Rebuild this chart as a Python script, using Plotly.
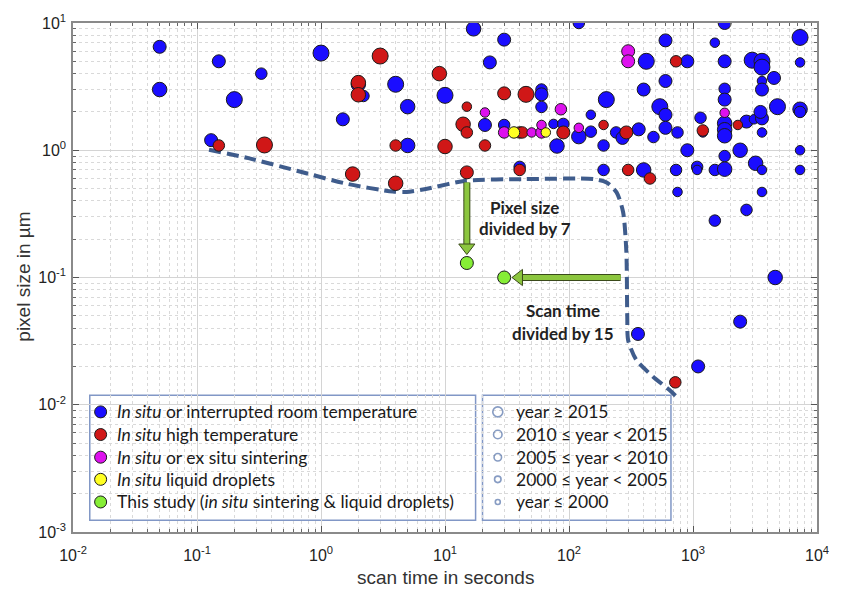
import plotly.graph_objects as go

# ---------------- data ----------------
# year class: 0: year>=2015, 1: 2010-2015, 2: 2005-2010, 3: 2000-2005, 4: year<=2000
blue_x = [0.05, 0.05, 0.15, 0.33, 0.2, 1.0, 1.5, 0.13, 17, 30, 120, 23, 2.0, 2.2, 4.0, 5.0, 10,
          60, 60, 60, 21, 30, 75, 90, 120, 80, 5.0, 40, 1800, 600, 1500, 7300, 420, 900, 1800,
          3000, 3600, 3600, 7300, 600, 400, 1800, 1800, 3600, 3600, 4500, 200, 540, 600, 4800,
          7300, 7300, 150, 1150, 1800, 1800, 1800, 2700, 3100, 3600, 3500, 3600, 150, 190, 240,
          270, 365, 480, 600, 750, 1200, 900, 1800, 2400, 3200, 3600, 7300, 7300, 190, 400, 730,
          1080, 1080, 1500, 1800, 750, 3600, 2700, 1500, 4600, 2400, 360, 1100]
blue_y = [6.5, 3.0, 5.0, 4.0, 2.5, 5.8, 1.75, 1.2, 9.0, 7.4, 10, 4.9, 3.3, 2.67, 3.3, 2.2, 2.7,
          3.0, 2.75, 2.19, 1.58, 1.58, 1.61, 1.61, 1.28, 1.08, 1.09, 0.74, 10, 7.3, 7.0, 7.7, 5.0, 5.0, 5.0,
          5.1, 5.0, 4.5, 4.9, 3.5, 3.0, 3.04, 2.5, 3.5, 3.0, 3.7, 2.5, 2.2, 1.9, 2.2,
          2.1, 2.0, 1.9, 1.8, 1.63, 1.45, 1.3, 1.68, 1.75, 1.78, 2.0, 1.38, 1.4, 1.09, 1.38,
          1.25, 1.46, 1.27, 1.5, 1.38, 1.38, 1.0, 0.9, 1.0, 0.79, 0.7, 1.0, 0.7, 0.7, 0.7, 0.7,
          0.74, 0.7, 0.7, 0.71, 0.47, 0.47, 0.34, 0.28, 0.1, 0.045, 0.036, 0.02]
blue_cls = [2, 1, 2, 3, 0, 0, 2, 2, 1, 2, 3, 2, 1, 3, 0, 1, 0,
            3, 2, 3, 2, 3, 4, 3, 1, 1, 1, 3, 2, 2, 4, 0, 0, 2, 2,
            0, 0, 0, 4, 2, 2, 3, 2, 4, 2, 2, 0, 0, 2, 0,
            1, 3, 4, 3, 1, 1, 1, 2, 4, 2, 2, 4, 3, 3, 3,
            2, 2, 3, 2, 3, 4, 2, 3, 1, 1, 4, 4, 4, 3, 1, 3,
            3, 4, 3, 1, 4, 4, 3, 3, 1, 2, 2, 2]

red_x = [0.15, 0.35, 1.8, 3.0, 9, 2.0, 2.0, 15, 30, 45, 14, 15, 40, 42, 90, 4.0, 10, 21, 40,
         4.0, 15, 730, 2300, 190, 290, 1200, 300, 450, 720]
red_y = [1.09, 1.1, 0.65, 5.5, 4.0, 3.4, 2.73, 2.2, 2.8, 2.75, 1.6, 1.38, 1.38, 1.38, 1.38, 1.09,
         1.07, 1.09, 0.7, 0.55, 0.67, 5.0, 1.58, 1.58, 1.38, 1.43, 0.7, 0.6, 0.015]
red_cls = [3, 0, 1, 0, 1, 1, 1, 4, 2, 0, 1, 3, 3, 3, 2, 3, 1, 3, 3, 1, 2, 3, 4, 4, 2, 3, 3, 3, 3]

mag_x = [21, 86, 30, 50, 60, 60, 120, 300, 300, 1800]
mag_y = [1.98, 2.1, 1.38, 1.38, 1.38, 1.58, 1.5, 6.0, 5.0, 1.97]
mag_cls = [4, 3, 3, 4, 3, 4, 4, 2, 2, 4]

yel_x = [36, 65]
yel_y = [1.38, 1.38]
yel_cls = [3, 4]

green_x = [15, 30]
green_y = [0.13, 0.1]
green_cls = [2, 2]

# dashed "state of the art" frontier
front_x = [0.125, 0.26, 0.65, 1.62, 3.8, 4.9, 7.0, 14.6, 44, 158, 201, 242, 273, 290, 295, 300,
           349, 474, 643, 726]
front_y = [1.01, 0.867, 0.687, 0.545, 0.473, 0.47, 0.496, 0.575, 0.593, 0.593, 0.558, 0.467,
           0.327, 0.16, 0.0487, 0.0321, 0.0225, 0.0167, 0.0131, 0.0117]

# arrows: vertical (pixel size / 7) and horizontal (scan time / 15)
varrow_y = [0.558, 0.172]      # from frontier down to above green point
harrow_x = [261, 39.5]         # from frontier left to green point

tick_vals_x = [1e-2, 1e-1, 1e0, 1e1, 1e2, 1e3, 1e4]
tick_text_x = ["10<sup>-2</sup>", "10<sup>-1</sup>", "10<sup>0</sup>", "10<sup>1</sup>",
               "10<sup>2</sup>", "10<sup>3</sup>", "10<sup>4</sup>"]
tick_vals_y = [1e-3, 1e-2, 1e-1, 1e0, 1e1]
tick_text_y = ["10<sup>-3</sup>", "10<sup>-2</sup>", "10<sup>-1</sup>", "10<sup>0</sup>", "10<sup>1</sup>"]

group_labels = ["<i>In situ</i> or interrupted room temperature",
                "<i>In situ</i> high temperature",
                "<i>In situ</i> or ex situ sintering",
                "<i>In situ</i> liquid droplets",
                "This study (<i>in situ</i> sintering &amp; liquid droplets)"]
year_labels = ["year ≥ 2015", "2010 ≤ year < 2015", "2005 ≤ year < 2010",
               "2000 ≤ year < 2005", "year ≤ 2000"]

# ---------------- style ----------------
colors = ["#1a0dff", "#d01717", "#dd11ee", "#ffff22", "#86ee36"]
size_map = [16, 14.5, 13, 11.5, 9.5]
legend_sizes = [10, 8.5, 7.5, 6.5, 5]
edge = "#1a1a1a"
L, R, T, B = 73, 14, 15, 61
W, H = 841, 593


def minor_vals(lo, hi):
    vals = []
    for e in range(lo, hi):
        for m in range(2, 10):
            vals.append(m * 10.0 ** e)
    return vals


fig = go.Figure()

# frontier line
fig.add_trace(go.Scatter(x=front_x, y=front_y, mode="lines",
                         line=dict(color="#3f5c8c", width=4, dash="12px,6px", shape="spline",
                                   smoothing=0.7),
                         hoverinfo="skip", showlegend=False))

groups = [(blue_x, blue_y, blue_cls), (red_x, red_y, red_cls), (mag_x, mag_y, mag_cls),
          (yel_x, yel_y, yel_cls), (green_x, green_y, green_cls)]
for (gx, gy, gc), col, name in zip(groups, colors, group_labels):
    fig.add_trace(go.Scatter(x=gx, y=gy, mode="markers", name=name,
                             marker=dict(color=col, size=[size_map[c] for c in gc],
                                         line=dict(color=edge, width=1), opacity=1),
                             showlegend=False))

# arrows (outlined green)
arrow_green = "#8cc63f"
arrow_dark = "#3a4a1a"
for ax_, ay_, sym in [([green_x[0]] * 2, varrow_y, "triangle-down"),
                      (harrow_x, [green_y[1]] * 2, "triangle-left")]:
    fig.add_trace(go.Scatter(x=ax_, y=ay_, mode="lines", line=dict(color=arrow_dark, width=7),
                             hoverinfo="skip", showlegend=False))
    fig.add_trace(go.Scatter(x=ax_, y=ay_, mode="lines", line=dict(color=arrow_green, width=5),
                             hoverinfo="skip", showlegend=False))
    fig.add_trace(go.Scatter(x=[ax_[1]], y=[ay_[1]], mode="markers",
                             marker=dict(symbol=sym, size=14, color=arrow_green,
                                         line=dict(color=arrow_dark, width=1)),
                             hoverinfo="skip", showlegend=False))

# ---------------- custom legends (overlay pixel axes) ----------------
row_y = [410, 433, 456, 478.5, 501.5]
fig.add_trace(go.Scatter(x=[101] * 5, y=row_y, mode="markers", xaxis="x2", yaxis="y2",
                         marker=dict(color=colors, size=12, line=dict(color=edge, width=1)),
                         hoverinfo="skip", showlegend=False))
fig.add_trace(go.Scatter(x=[503.5] * 5, y=row_y, mode="markers", xaxis="x2", yaxis="y2",
                         marker=dict(color="rgba(0,0,0,0)", size=legend_sizes,
                                     line=dict(color="#5573aa", width=1.6)),
                         hoverinfo="skip", showlegend=False))

annotations = []
for yy, t in zip(row_y, group_labels):
    annotations.append(dict(x=116, y=yy, xref="x2", yref="y2", text=t, showarrow=False,
                            xanchor="left", yanchor="middle",
                            font=dict(family="Lato", size=17.5, color="#1a1a1a")))
for yy, t in zip(row_y, year_labels):
    annotations.append(dict(x=520, y=yy, xref="x2", yref="y2", text=t, showarrow=False,
                            xanchor="left", yanchor="middle",
                            font=dict(family="Lato", size=17.5, color="#1a1a1a")))

for xx, yy, t in [(531, 202, "Pixel size"), (531, 224, "divided by 7"),
                  (570, 307, "Scan time"), (570, 330, "divided by 15")]:
    annotations.append(dict(x=xx, y=yy, xref="x2", yref="y2", text="<b>" + t + "</b>",
                            showarrow=False, xanchor="center", yanchor="middle",
                            font=dict(family="Lato", size=17, color="#222222")))

pw, ph = W - L - R, H - T - B
annotations.append(dict(x=(22 - L) / pw, y=(H - B - 273) / ph, xref="paper", yref="paper",
                        text="pixel size in µm", textangle=-90, showarrow=False,
                        xanchor="center", yanchor="middle",
                        font=dict(family="Liberation Sans", size=19, color="#333333")))
annotations.append(dict(x=(450 - L) / pw, y=(H - B - 578) / ph, xref="paper", yref="paper",
                        text="scan time in seconds", showarrow=False,
                        xanchor="center", yanchor="middle",
                        font=dict(family="Liberation Sans", size=19, color="#333333")))

shapes = [
    dict(type="rect", xref="x2", yref="y2", x0=90, x1=481, y0=393, y1=520,
         line=dict(color="#8197c6", width=1.5), fillcolor="rgba(255,255,255,0.35)", layer="below"),
    dict(type="rect", xref="x2", yref="y2", x0=488, x1=679, y0=393, y1=520,
         line=dict(color="#8197c6", width=1.5), fillcolor="rgba(255,255,255,0.35)", layer="below"),
]


def axis_style(lo, hi, standoff):
    return dict(
        type="log", showline=True, linecolor="#8a8a8a", linewidth=1.5, mirror="ticks",
        ticks="inside", ticklen=6, tickcolor="#555555", tickwidth=1,
        showgrid=True, gridcolor="#d4d4d4", gridwidth=1, zeroline=False,
        ticklabelstandoff=standoff,
        tickfont=dict(family="Liberation Sans", size=16, color="#222222"),
        minor=dict(tickvals=minor_vals(lo, hi), ticks="inside", ticklen=3, tickcolor="#666666",
                   showgrid=True, gridcolor="#d9d9d9", griddash="dot", gridwidth=1),
    )


fig.update_layout(
    width=W, height=H, margin=dict(l=L, r=R, t=T, b=B),
    paper_bgcolor="white", plot_bgcolor="white", showlegend=False,
    xaxis=dict(range=[-2, 4], tickvals=tick_vals_x, ticktext=tick_text_x, **axis_style(-2, 4, 8)),
    yaxis=dict(range=[-3, 1], tickvals=tick_vals_y, ticktext=tick_text_y, **axis_style(-3, 1, 2)),
    xaxis2=dict(range=[L, W - R], overlaying="x", visible=False, anchor="y2"),
    yaxis2=dict(range=[H - B, T], overlaying="y", visible=False, anchor="x2"),
    annotations=annotations, shapes=shapes,
)

fig.write_html("out.html")
